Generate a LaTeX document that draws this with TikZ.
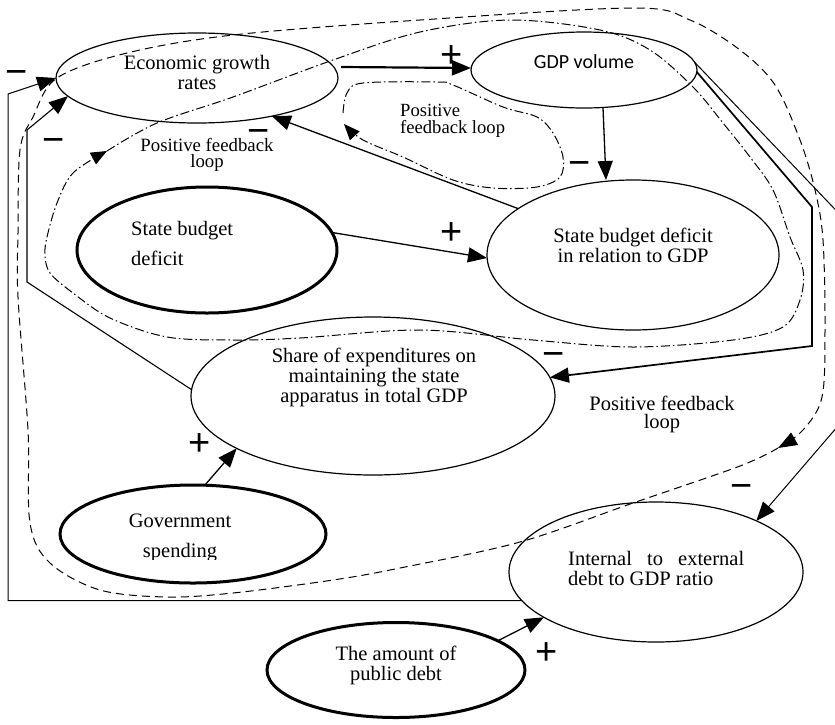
\documentclass[tikz,border=0pt]{standalone}
\usepackage{fontspec}
\setmainfont{Liberation Serif}
\newfontfamily\calibrifont{Carlito}
\newfontfamily\signfont{Liberation Sans}
\usetikzlibrary{shapes.geometric,arrows.meta}

\begin{document}
\begin{tikzpicture}[x=1pt,y=-1pt,
  box/.style={ellipse, draw, line width=1.2pt, inner sep=0pt, outer sep=0pt},
  boldbox/.style={box, line width=3pt},
  txt/.style={inner sep=0pt, align=center, font=\fontsize{20.5}{20}\selectfont},
  sign/.style={inner sep=0pt, anchor=base, font=\signfont\fontsize{38}{38}\selectfont},
  tip/.style={-{Triangle[length=19pt,width=15pt]}},
  link/.style={tip, line width=1.3pt},
  thinlink/.style={tip, line width=1pt},
  loopdash/.style={line width=1pt, dash pattern=on 8pt off 5pt,
    -{Triangle[length=19pt,width=14pt]}},
  loopdot/.style={line width=1pt, dash pattern=on 9pt off 3pt on 1.5pt off 3pt,
    -{Triangle[length=16pt,width=13pt]}},
]
\useasboundingbox (0,0) rectangle (835,724);
\fill[white] (0,0) rectangle (835,724);
\clip (0,0) rectangle (835,724);

% variables of the causal model
\node[box]     (econ)     at (197,78)  [minimum width=282pt, minimum height=90pt] {};
\node[box]     (gdp)      at (584,70)  [minimum width=226pt, minimum height=76pt] {};
\node[boldbox] (sbd)      at (207,250) [minimum width=260pt, minimum height=126pt] {};
\node[box]     (sbdrel)   at (633,255) [minimum width=292pt, minimum height=150pt] {};
\node[box]     (share)    at (373,396) [minimum width=364pt, minimum height=158pt] {};
\node[boldbox] (gov)      at (193,534) [minimum width=266pt, minimum height=98pt] {};
\node[box]     (internal) at (656,572) [minimum width=294pt, minimum height=140pt] {};
\node[boldbox] (debt)     at (396,670) [minimum width=258pt, minimum height=95pt] {};

% their labels
\node[txt] (econ-t) at (197,72) {Economic growth\\rates};
\node[inner sep=0pt, font=\calibrifont\fontsize{20}{20}\selectfont] (gdp-t) at (584,62) {GDP volume};
\node[txt, align=left, anchor=west, font=\fontsize{20.5}{30}\selectfont] (sbd-t) at (131,243) {State budget\\deficit};
\node[txt] (sbdrel-t) at (633,245) {State budget deficit\\in relation to GDP};
\node[txt] (share-t) at (374,377) {Share of expenditures on\\maintaining the state\\apparatus in total GDP};
\begin{scope}
  % the second line sits on the lower edge of its text frame
  \clip (90,495) rectangle (270,559);
  \node[txt, font=\fontsize{20.5}{30}\selectfont] (gov-t) at (180,538) {Government\\spending};
\end{scope}
\node[txt, align=left, anchor=west] (internal-t) at (568,568) {\makebox[176pt][s]{Internal to external}\\debt to GDP ratio};
\node[txt] (debt-t) at (396,665) {The amount of\\public debt};

% loop captions
\node[txt, font=\fontsize{18.8}{16}\selectfont] (loop1) at (207,155) {Positive feedback\\loop};
\node[txt, align=left, anchor=west, font=\fontsize{18.6}{17}\selectfont] (loop2) at (400,121) {Positive\\feedback loop};
\node[txt, font=\fontsize{20.5}{18}\selectfont] (loop3) at (662,414) {Positive feedback\\loop};

% causal links
\draw[tip, line width=2.2pt] ([shift={(3,-11)}]econ.east) -- ([shift={(0,-2)}]gdp.west);
\draw[link] ([shift={(19,0)}]gdp.south) -- ([shift={(-27,0)}]sbdrel.north);
\draw[link] (sbdrel.158) -- (econ.333);
\draw[link] (sbd.8) -- ([shift={(0,3)}]sbdrel.west);
\draw[tip, line width=1.7pt] (gdp.359) -- (812,207) -- (812,346) -- (share.6);
\draw[thinlink] (gdp.4) -- (850,225) -- (850,412) -- (internal.27);
\draw[thinlink] (internal.192) -| (8,94) -- (econ.west);
\draw[thinlink, line width=1.1pt] (share.178) -- (27,282) -- (27,130) -- (econ.188);
\draw[link] ([shift={(12,0)}]gov.north) -- (share.201);
\draw[link] (debt.16) -- (internal.202);

% link polarities
\node[sign] (s1)  at (17,84.4)   {−};
\node[sign] (s2)  at (54,152.4)  {−};
\node[sign] (s3)  at (452,67.4)  {+};
\node[sign] (s4)  at (259,143.4) {−};
\node[sign] (s5)  at (580,175.4) {−};
\node[sign] (s6)  at (452,244.4) {+};
\node[sign] (s7)  at (554,366.4) {−};
\node[sign] (s8)  at (200,455.4) {+};
\node[sign] (s9)  at (742,498.4) {−};
\node[sign] (s10) at (547,664.4) {+};

% feedback loops
\draw[loopdash] plot[smooth, tension=0.55] coordinates {
  (778,448) (740,466) (633,503) (520,542) (400,568) (333,580) (233,593)
  (167,597) (100,590) (50,563) (30,523) (28,430) (18,297) (18,233)
  (20,150) (33,117) (57,78) (127,53) (233,35) (420,20) (633,8) (690,20)
  (740,50) (775,85) (800,140) (815,190) (823,240) (825,330) (822,397)
  (803,430) (778,448)};
\draw[loopdot] plot[smooth, tension=0.55] coordinates {
  (107,151) (157,123) (233,97) (333,60) (420,32) (510,20) (600,30)
  (650,50) (693,87) (723,123) (750,157) (773,190) (790,237) (803,270)
  (800,300) (783,327) (733,340) (633,347) (533,340) (420,330) (300,338)
  (233,340) (167,337) (110,318) (73,293) (50,273) (45,255) (47,237)
  (57,203) (73,173) (107,151)};
\draw[loopdot] plot[smooth, tension=0.55] coordinates {
  (343,113) (347,93) (363,83) (437,82) (453,85) (503,107) (537,117)
  (553,133) (563,157) (560,177) (537,187) (493,188) (453,180) (403,157)
  (363,140) (344,124)};
\end{tikzpicture}
\end{document}
